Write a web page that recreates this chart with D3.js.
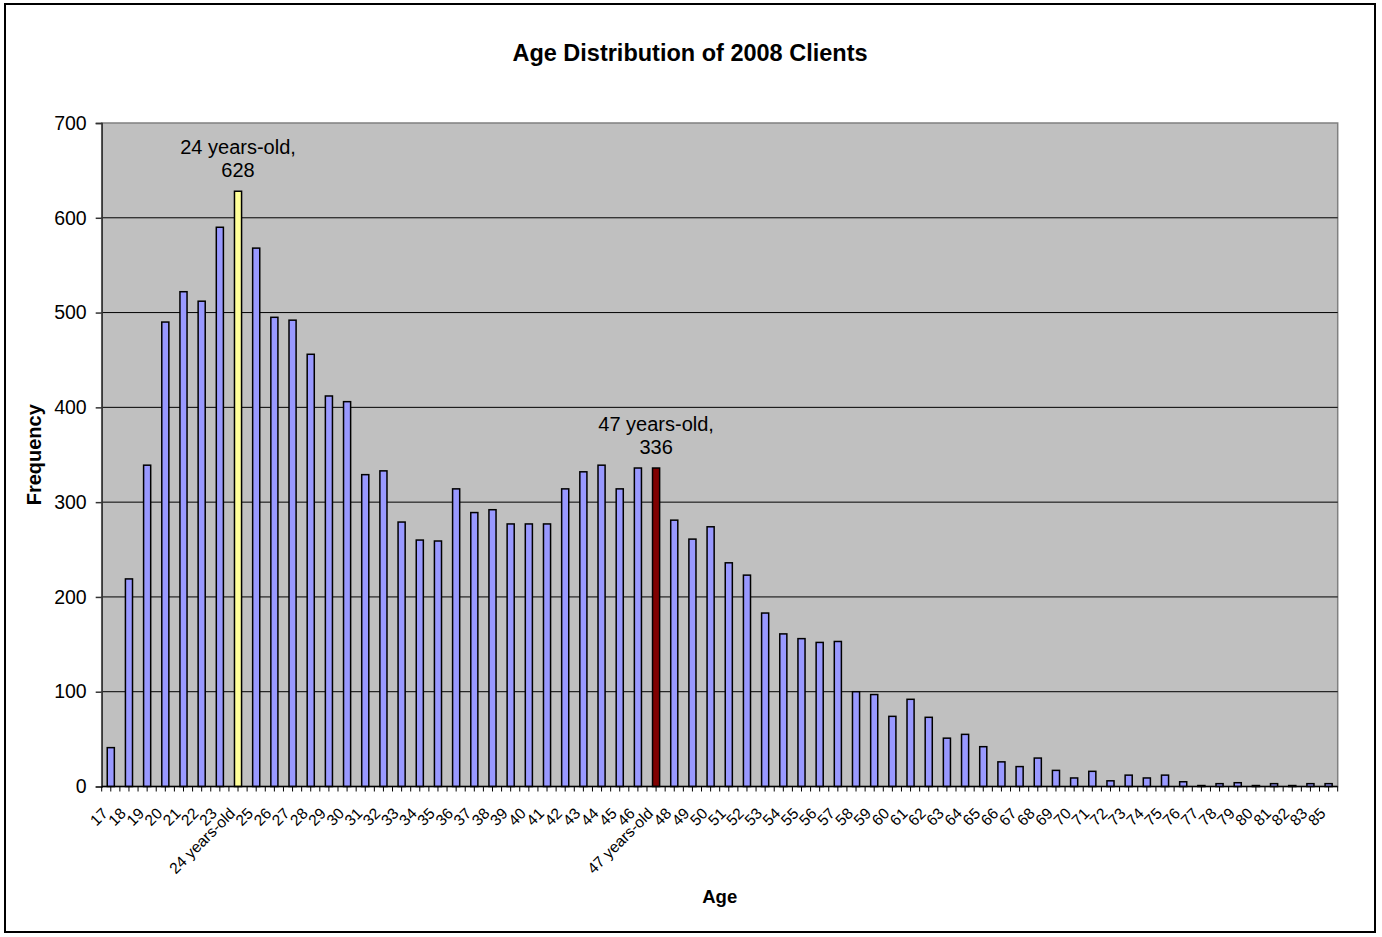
<!DOCTYPE html>
<html>
<head>
<meta charset="utf-8">
<script src="https://cdn.jsdelivr.net/npm/d3@7"></script>
<style>
  html, body { margin: 0; padding: 0; background: #fff; }
  svg { display: block; font-family: "Liberation Sans", Arial, sans-serif; }
</style>
</head>
<body>
<svg id="chart" width="1382" height="937"></svg>
<script>
const ages = ["17","18","19","20","21","22","23","24 years-old","25","26","27","28","29","30","31","32","33","34","35","36","37","38","39","40","41","42","43","44","45","46","47 years-old","48","49","50","51","52","53","54","55","56","57","58","59","60","61","62","63","64","65","66","67","68","69","70","71","72","73","74","75","76","77","78","79","80","81","82","83","85"];
const frequency = [41,219,339,490,522,512,590,628,568,495,492,456,412,406,329,333,279,260,259,314,289,292,277,277,277,314,332,339,314,336,336,281,261,274,236,223,183,161,156,152,153,100,97,74,92,73,51,55,42,26,21,30,17,9,16,6,12,9,12,5,1,3,4,1,3,1,3,3];
const yTicks = [0,100,200,300,400,500,600,700];
const highlights = [
  { label: "24 years-old", lines: ["24 years-old,", "628"], color: "#FFFF99" },
  { label: "47 years-old", lines: ["47 years-old,", "336"], color: "#800000" }
];
const titleText = "Age Distribution of 2008 Clients";
const xTitle = "Age";
const yTitle = "Frequency";

const data = ages.map((a, i) => ({ age: a, value: frequency[i] }));

const svg = d3.select("#chart");
const plot = { left: 101.7, right: 1337.7, top: 123, bottom: 786.5 };

// outer border
svg.append("rect").attr("x", 5).attr("y", 4).attr("width", 1370).attr("height", 928)
  .attr("fill", "#fff").attr("stroke", "#000").attr("stroke-width", 2);

const x = d3.scaleBand().domain(ages).range([plot.left, plot.right])
  .paddingInner(0.61).paddingOuter(0.305);
const y = d3.scaleLinear().domain([0, 700]).range([plot.bottom, plot.top]);

// plot background
svg.append("rect").attr("x", plot.left).attr("y", plot.top)
  .attr("width", plot.right - plot.left).attr("height", plot.bottom - plot.top)
  .attr("fill", "#C0C0C0").attr("stroke", "#808080").attr("stroke-width", 1.5);

// gridlines
svg.append("g").selectAll("line").data(yTicks.filter(v => v > 0 && v < 700)).join("line")
  .attr("x1", plot.left).attr("x2", plot.right)
  .attr("y1", d => y(d)).attr("y2", d => y(d))
  .attr("stroke", "#000").attr("stroke-width", 1);

// bars
const colorFor = d => {
  const h = highlights.find(h => h.label === d.age);
  return h ? h.color : "#9999FF";
};
svg.append("g").selectAll("rect").data(data).join("rect")
  .attr("x", d => x(d.age))
  .attr("y", d => y(d.value))
  .attr("width", x.bandwidth())
  .attr("height", d => y(0) - y(d.value))
  .attr("fill", colorFor)
  .attr("stroke", "#000").attr("stroke-width", 1.5);

// y axis
const yAxis = d3.axisLeft(y).tickValues(yTicks).tickSize(6).tickPadding(9);
const gy = svg.append("g").attr("transform", `translate(${plot.left},0)`).call(yAxis);
gy.select(".domain").attr("stroke", "#333").attr("stroke-width", 1.5);
gy.selectAll(".tick line").attr("stroke", "#333").attr("stroke-width", 1.5);
gy.selectAll(".tick text").attr("font-size", 19.5).attr("fill", "#000")
  .attr("font-family", "'Liberation Sans', Arial, sans-serif");

// x axis line and ticks (boundaries + centers)
const step = x.step();
const gx = svg.append("g");
gx.append("line").attr("x1", plot.left).attr("x2", plot.right)
  .attr("y1", plot.bottom).attr("y2", plot.bottom).attr("stroke", "#000").attr("stroke-width", 1.5);
const tickPos = [];
ages.forEach(a => {
  const c = x(a) + x.bandwidth() / 2;
  tickPos.push(c - step / 2, c);
});
tickPos.push(plot.right);
gx.selectAll("line.t").data(tickPos).join("line").attr("class", "t")
  .attr("x1", d => d).attr("x2", d => d)
  .attr("y1", plot.bottom).attr("y2", plot.bottom + 5)
  .attr("stroke", "#000").attr("stroke-width", 1);

// x tick labels rotated
gx.selectAll("text").data(ages).join("text")
  .attr("transform", d => `translate(${x(d) + x.bandwidth() / 2 - 2},${plot.bottom + 28}) rotate(-45)`)
  .attr("text-anchor", "end")
  .attr("font-size", 15.5)
  .attr("fill", "#000")
  .text(d => d);

// annotations
highlights.forEach(h => {
  const d = data.find(e => e.age === h.label);
  const cx = x(d.age) + x.bandwidth() / 2;
  const yb = y(d.value) - 14;
  svg.append("text").attr("x", cx).attr("y", yb - 23.5)
    .attr("text-anchor", "middle").attr("font-size", 20).text(h.lines[0]);
  svg.append("text").attr("x", cx).attr("y", yb)
    .attr("text-anchor", "middle").attr("font-size", 20).text(h.lines[1]);
});

// titles
svg.append("text").attr("x", 690).attr("y", 61).attr("text-anchor", "middle")
  .attr("font-size", 23.5).attr("font-weight", "bold").text(titleText);
svg.append("text").attr("x", (plot.left + plot.right) / 2).attr("y", 903).attr("text-anchor", "middle")
  .attr("font-size", 18.5).attr("font-weight", "bold").text(xTitle);
svg.append("text").attr("transform", `translate(41,${(plot.top + plot.bottom) / 2}) rotate(-90)`)
  .attr("text-anchor", "middle").attr("font-size", 20).attr("font-weight", "bold").text(yTitle);
</script>
</body>
</html>
